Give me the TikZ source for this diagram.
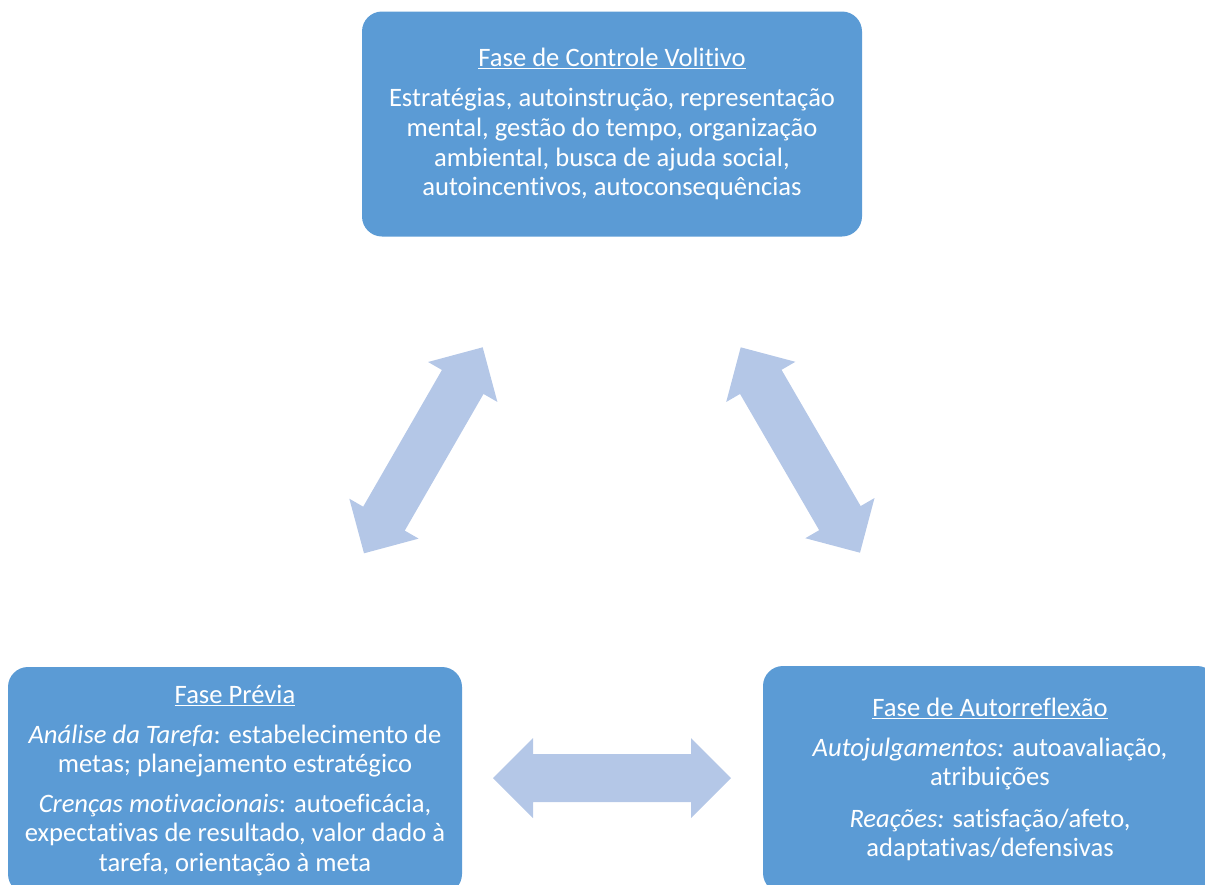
\documentclass[tikz,border=0pt]{standalone}
\usepackage{fontspec}
\setmainfont[Ligatures={NoCommon}]{Carlito}
\usetikzlibrary{calc}
\definecolor{phasefill}{HTML}{5B9BD5}
\definecolor{linkfill}{HTML}{B4C7E7}
\tikzset{
  phase/.style={draw=none, fill=phasefill, text=white, rounded corners=20pt,
    align=center, inner sep=0pt, font=\fontsize{26.6}{29.6}\selectfont},
  linkarrow/.style={fill=linkfill, draw=none}
}
% block arrow with two heads between two named coordinates
\newcommand{\blockarrow}[2]{%
  \coordinate (#1-h) at ($(#1)!40pt!(#2)$);
  \coordinate (#2-h) at ($(#2)!40pt!(#1)$);
  \fill[linkarrow] (#1)
    -- ($(#1-h)!40pt!90:(#2)$) -- ($(#1-h)!24pt!90:(#2)$)
    -- ($(#2-h)!24pt!-90:(#1)$) -- ($(#2-h)!40pt!-90:(#1)$)
    -- (#2)
    -- ($(#2-h)!40pt!90:(#1)$) -- ($(#2-h)!24pt!90:(#1)$)
    -- ($(#1-h)!24pt!-90:(#2)$) -- ($(#1-h)!40pt!-90:(#2)$)
    -- cycle;}
\begin{document}
\begin{tikzpicture}[x=1pt, y=-1pt]
\useasboundingbox (0,0) rectangle (1205,884);
\clip (0,0) rectangle (1205,884);
% phase boxes
\node[phase, minimum width=500pt, minimum height=225pt] (volitivo) at (612,124)
  {\underline{Fase de Controle Volitivo}\\[11pt]
   Estratégias, autoinstrução, representação\\
   mental, gestão do tempo, organização\\
   ambiental, busca de ajuda social,\\
   autoincentivos, autoconsequências};
\node[phase, minimum width=454pt, minimum height=227pt] (previa) at (235,780.5)
  {\underline{Fase Prévia}\\[10pt]
   \textit{Análise da Tarefa}: estabelecimento de\\
   metas; planejamento estratégico\\[10pt]
   \textit{Crenças motivacionais}: autoeficácia,\\
   expectativas de resultado, valor dado à\\
   tarefa, orientação à meta};
\node[phase, minimum width=454pt, minimum height=227pt] (reflexao) at (990,779.5)
  {\underline{Fase de Autorreflexão}\\[10pt]
   \textit{Autojulgamentos:} autoavaliação,\\
   atribuições\\[12pt]
   \textit{Reações:} satisfação/afeto,\\
   adaptativas/defensivas};
% arrow end points between the phases
\coordinate (pv-a) at (364,553.3);
\coordinate (pv-b) at (482.7,347.3);
\coordinate (vr-a) at (740.7,347.3);
\coordinate (vr-b) at (860,552.7);
\coordinate (pr-a) at (493,778);
\coordinate (pr-b) at (731,778);
\blockarrow{pv-a}{pv-b}
\blockarrow{vr-a}{vr-b}
\blockarrow{pr-a}{pr-b}
\end{tikzpicture}
\end{document}
